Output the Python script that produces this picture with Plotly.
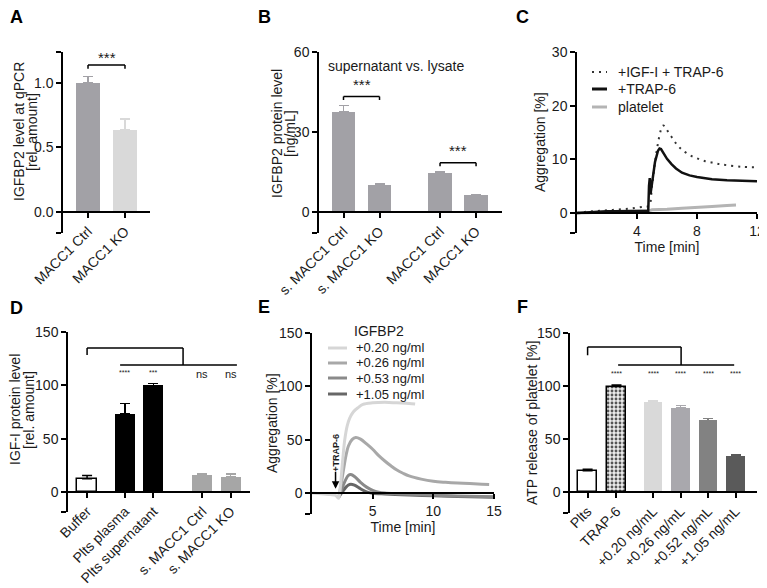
import plotly.graph_objects as go

# ---------------- data ----------------
A_categories = ["MACC1 Ctrl", "MACC1 KO"]
A_values = [1.0, 0.635]
A_errors = [0.05, 0.085]

B_categories = ["s. MACC1 Ctrl", "s. MACC1 KO", "MACC1 Ctrl", "MACC1 KO"]
B_values = [37.6, 10.1, 14.5, 6.2]
B_errors = [2.4, 0.5, 0.5, 0.4]

C_t_igf = [0, 0.5, 1, 1.5, 2, 2.5, 3, 3.5, 4, 4.5, 4.8, 5.0, 5.2, 5.4, 5.6, 5.75, 5.9, 6.1, 6.4, 6.7, 7.0, 7.5, 8, 8.5, 9, 9.5, 10, 11, 12]
C_y_igf = [0, 0.2, 0.3, 0.4, 0.5, 0.6, 0.7, 0.8, 1.0, 1.2, 1.3, 5.0, 9.5, 13.0, 15.5, 16.3, 15.9, 15.0, 13.8, 12.6, 11.8, 10.8, 10.2, 9.7, 9.4, 9.1, 8.9, 8.6, 8.5]
C_t_trap = [0, 0.5, 1, 1.5, 2, 2.5, 3, 3.5, 4, 4.5, 4.75, 4.8, 4.85, 4.9, 4.95, 5.0, 5.2, 5.4, 5.5, 5.6, 5.8, 6.0, 6.3, 6.6, 7.0, 7.5, 8, 8.5, 9, 10, 11, 12]
C_y_trap = [0, 0.1, 0.2, 0.2, 0.3, 0.3, 0.3, 0.4, 0.4, 0.4, 0.4, 5.0, 6.5, 3.5, 4.5, 6.0, 9.5, 11.6, 12.0, 11.9, 11.0, 10.1, 9.1, 8.3, 7.5, 7.0, 6.7, 6.5, 6.3, 6.1, 6.0, 5.9]
C_t_plt = [0, 1, 2, 3, 4, 4.8, 5.0, 5.5, 6, 7, 8, 9, 10, 10.6]
C_y_plt = [0, 0.1, 0.2, 0.3, 0.3, 0.4, 0.6, 0.6, 0.7, 0.9, 1.0, 1.2, 1.4, 1.5]
C_names = ["+IGF-I + TRAP-6", "+TRAP-6", "platelet"]

D_categories = ["Buffer", "Plts plasma", "Plts supernatant", "s. MACC1 Ctrl", "s. MACC1 KO"]
D_values = [12.5, 73, 100, 16, 14.5]
D_errors = [3, 10, 1.5, 1, 2.5]
D_sig = ["", "****", "***", "ns", "ns"]

E_names = ["+0.20 ng/ml", "+0.26 ng/ml", "+0.53 ng/ml", "+1.05 ng/ml"]
E_t_020 = [0, 0.5, 1, 1.5, 1.9, 2.1, 2.2, 2.35, 2.5, 2.7, 2.9, 3.1, 3.4, 3.8, 4.2, 5, 6, 7, 8, 8.5]
E_y_020 = [0, -0.5, -1, -1.5, -2, -4, -5, 8, 27, 50, 63, 70, 76, 80, 83, 84.5, 85, 84.5, 84, 83.5]
E_t_026 = [2.2, 2.4, 2.6, 2.8, 3.0, 3.3, 3.6, 4.0, 4.5, 5, 5.5, 6, 6.5, 7, 7.5, 8, 9, 10, 11, 12, 13, 14, 14.6]
E_y_026 = [-4, 8, 22, 35, 44, 50, 52, 50.5, 46, 41, 35, 30, 25.5, 21.5, 18.5, 16, 13, 11, 10, 9.3, 8.8, 8.3, 8]
E_t_053 = [2.2, 2.4, 2.6, 2.8, 3.0, 3.2, 3.5, 4.0, 4.5, 5.0, 5.5, 6, 7, 8, 10, 12, 15]
E_y_053 = [-4, 2, 8, 13, 16.5, 17.3, 15.5, 10, 5.5, 2.5, 0.8, 0, -0.7, -1.2, -2, -2.8, -3.5]
E_t_105 = [2.2, 2.5, 2.8, 3.0, 3.2, 3.5, 4.0, 4.5, 5, 6, 8, 10, 12, 15]
E_y_105 = [-4, 1, 5.5, 7.5, 8.2, 7.3, 4, 1, -0.2, -1, -2, -2.7, -3.3, -4]
E_t_base = [2.3, 15]
E_y_base = [0, 0]

F_categories = ["Plts", "TRAP-6", "+0.20 ng/mL", "+0.26 ng/mL", "+0.52 ng/mL", "+1.05 ng/mL"]
F_values = [20, 99.5, 85, 79.5, 67.5, 34]
F_errors = [1.5, 1.5, 1.5, 2, 2, 1.2]
F_sig = ["", "****", "****", "****", "****", "****"]

# ---------------- layout helpers ----------------
OFF = 8  # page body margin of the html page
W, H = 767 - OFF, 588 - OFF
FONT = "Liberation Sans, Arial, sans-serif"
TXT = "#1a1a1a"


def PX(x):
    return (x - OFF) / W


def PY(y):
    return 1 - (y - OFF) / H


fig = go.Figure()

# panel geometry in page pixels: x0, x1, ytop, ybottom, yzero
geo = {
    1: (63, 150, 52, 233, 212),
    2: (319, 502, 52, 233, 212),
    3: (577, 757, 52, 233, 213),
    4: (68, 250, 332, 512, 492),
    5: (312, 494, 333, 514, 493),
    6: (570, 757, 333, 513, 492),
}
yranges = {1: [-0.163, 1.24], 2: [-7.875, 60], 3: [-3.73, 30], 4: [-18.75, 150], 5: [-19.7, 150], 6: [-19.8, 150]}
xranges = {1: [-0.676, 1.676], 2: [-0.68, 4.40], 3: [0, 12], 4: [-0.67, 5.72], 5: [0, 15], 6: [-0.64, 6.16]}
ymain = {1: [0, 0.5, 1.0], 2: [0, 30, 60], 3: [0, 10, 20, 30], 4: [0, 50, 100, 150], 5: [0, 50, 100, 150], 6: [0, 50, 100, 150]}
yfmt = {1: "{:.1f}", 2: "{:g}", 3: "{:g}", 4: "{:g}", 5: "{:g}", 6: "{:g}"}
# y-axis titles: (text, page x of line centre, page y of centre)
ytitles = {
    1: [("IGFBP2 level at qPCR", 19, 132), ("[rel. amount]", 32, 132)],
    2: [("IGFBP2 protein level", 277, 134), ("[ng/mL]", 290, 134)],
    3: [("Aggregation [%]", 540, 142)],
    4: [("IGF-I protein level", 15, 410), ("[rel. amount]", 29, 410)],
    5: [("Aggregation [%]", 272, 423)],
    6: [("ATP release of platelet [%]", 532, 423)],
}

B_pos = [0, 1, 2.68, 3.68]
D_pos = [0, 1.33, 2.33, 4.05, 5.04]
F_pos = [0, 1.05, 2.38, 3.38, 4.38, 5.38]
A_pos = [0, 1]


def ax(n, kind):
    return kind if n == 1 else f"{kind}{n}"


def bar(n, xpos, val, err, color, line_color=None, pattern=None, width=0.65, ecolor=None):
    marker = dict(color=color, line=dict(width=1.5 if line_color else 0, color=line_color or color))
    if pattern:
        marker["pattern"] = pattern
    fig.add_trace(go.Bar(
        x=[xpos], y=[val], width=width, marker=marker,
        error_y=dict(type="data", array=[err], arrayminus=[0], symmetric=False,
                     color=ecolor or color, thickness=1.5, width=5),
        xaxis=ax(n, "x"), yaxis=ax(n, "y"), showlegend=False, hoverinfo="skip"))


# ---- A ----
A_colors = ["#a2a1a6", "#d9d9d9"]
for p, v, e, c in zip(A_pos, A_values, A_errors, A_colors):
    bar(1, p, v, e, c, width=0.65)

# ---- B ----
for p, v, e in zip(B_pos, B_values, B_errors):
    bar(2, p, v, e, "#a2a1a6", width=0.65)

# ---- C ----
fig.add_trace(go.Scatter(x=C_t_plt, y=C_y_plt, mode="lines", line=dict(color="#b4b4b4", width=3),
                         xaxis="x3", yaxis="y3", showlegend=False, name=C_names[2]))
fig.add_trace(go.Scatter(x=C_t_igf, y=C_y_igf, mode="lines", line=dict(color="#333333", width=2, dash="2px,5px", shape="spline"),
                         xaxis="x3", yaxis="y3", showlegend=False, name=C_names[0]))
fig.add_trace(go.Scatter(x=C_t_trap, y=C_y_trap, mode="lines", line=dict(color="#111111", width=2.5),
                         xaxis="x3", yaxis="y3", showlegend=False, name=C_names[1]))

# ---- D ----
D_fill = ["white", "black", "black", "#a6a6a6", "#a6a6a6"]
D_line = ["black", None, None, None, None]
D_err = ["black", "black", "black", "#a6a6a6", "#a6a6a6"]
for p, v, e, c, lc, ec in zip(D_pos, D_values, D_errors, D_fill, D_line, D_err):
    bar(4, p, v, e, c, line_color=lc, width=0.7, ecolor=ec)

# ---- E ----
E_colors = ["#d6d6d6", "#a8a8a8", "#8a8a8a", "#676767"]
E_series = [(E_t_020, E_y_020), (E_t_026, E_y_026), (E_t_053, E_y_053), (E_t_105, E_y_105)]
for i in [3, 2, 1]:
    fig.add_trace(go.Scatter(x=E_series[i][0], y=E_series[i][1], mode="lines",
                             line=dict(color=E_colors[i], width=3, shape="spline"),
                             xaxis="x5", yaxis="y5", showlegend=False, name=E_names[i]))
fig.add_trace(go.Scatter(x=E_t_base, y=E_y_base, mode="lines", line=dict(color="black", width=1.5),
                         xaxis="x5", yaxis="y5", showlegend=False))
fig.add_trace(go.Scatter(x=E_series[0][0], y=E_series[0][1], mode="lines",
                         line=dict(color=E_colors[0], width=3, shape="spline"),
                         xaxis="x5", yaxis="y5", showlegend=False, name=E_names[0]))

# ---- F ----
F_fill = ["white", "#e8e8e8", "#d9d9d9", "#a9a8ad", "#828282", "#5a5a5a"]
F_line = ["black", "black", None, None, None, None]
F_err = ["black", "black", "#d9d9d9", "#a9a8ad", "#828282", "#5a5a5a"]
for i, (p, v, e) in enumerate(zip(F_pos, F_values, F_errors)):
    pat = dict(shape=".", fgcolor="#555555", bgcolor="#ececec", size=4, solidity=0.4) if i == 1 else None
    bar(6, p, v, e, F_fill[i], line_color=F_line[i], pattern=pat, width=0.68, ecolor=F_err[i])

# ---------------- axes ----------------
layout = dict(template="none", width=W, height=H, margin=dict(l=0, r=0, t=0, b=0, pad=0, autoexpand=False),
              paper_bgcolor="white", plot_bgcolor="rgba(0,0,0,0)",
              font=dict(family=FONT, color=TXT, size=14), showlegend=False, bargap=0)

xticks = {
    1: (A_pos, A_categories, -45),
    2: (B_pos, B_categories, -45),
    3: ([4, 8, 12], ["4", "8", "12"], 0),
    4: (D_pos, D_categories, -45),
    5: ([5, 10, 15], ["5", "10", "15"], 0),
    6: (F_pos, F_categories, -45),
}
xtitle_text = {3: "Time [min]", 5: "Time [min]"}
for n, (x0, x1, yt, yb, yz) in geo.items():
    yr = yranges[n]
    lo = yr[0] + 1e-6 * (yr[1] - yr[0])
    tv = [lo] + ymain[n]
    tt = [""] + [yfmt[n].format(v) for v in ymain[n]]
    if n == 1:
        hi = yr[1] - 1e-6 * (yr[1] - yr[0])
        tv.append(hi)
        tt.append("")
    layout[ax(n, "yaxis")] = dict(
        domain=[PY(yb), PY(yt)], range=yr, anchor=ax(n, "x"), automargin=False,
        showline=True, linecolor="black", linewidth=1.5, ticks="outside", ticklen=5,
        tickwidth=1.5, tickcolor="black", tickvals=tv, ticktext=tt, showgrid=False,
        zeroline=False, tickfont=dict(size=14))
    tvx, ttx, ang = xticks[n]
    xa = dict(
        domain=[PX(x0), PX(x1)], range=xranges[n], anchor="free", position=PY(yz), automargin=False,
        showline=True, linecolor="black", linewidth=1.5, ticks="outside", ticklen=5,
        tickwidth=1.5, tickcolor="black", tickvals=tvx, ticktext=ttx, tickangle=ang,
        showgrid=False, zeroline=False, tickfont=dict(size=14))
    if n in xtitle_text:
        xa["title"] = dict(text=xtitle_text[n], font=dict(size=14), standoff=1)
    layout[ax(n, "xaxis")] = xa

fig.update_layout(**layout)

# ---------------- brackets / annotations ----------------
shapes = []
ann = []

for n, lines in ytitles.items():
    for s, tx, ty in lines:
        ann.append(dict(xref="paper", yref="paper", x=PX(tx), y=PY(ty), text=s, textangle=-90,
                        showarrow=False, xanchor="center", yanchor="middle", font=dict(size=14, color=TXT)))


def seg(n, xa, ya, xb, yb, w=1.5):
    shapes.append(dict(type="line", xref=ax(n, "x"), yref=ax(n, "y"), x0=xa, y0=ya, x1=xb, y1=yb,
                       line=dict(color="black", width=w)))


def txt(n, x, y, s, size=14):
    ann.append(dict(xref=ax(n, "x"), yref=ax(n, "y"), x=x, y=y, text=s, showarrow=False,
                    font=dict(size=size, color=TXT)))


# A
seg(1, 0, 1.11, 0, 1.14); seg(1, 0, 1.14, 1, 1.14); seg(1, 1, 1.14, 1, 1.11)
txt(1, 0.5, 1.2, "***", 15)
# B
seg(2, 0, 42, 0, 43.3); seg(2, 0, 43.3, 1, 43.3); seg(2, 1, 43.3, 1, 42)
txt(2, 0.5, 48, "***", 15)
seg(2, 2.68, 17.2, 2.68, 18.5); seg(2, 2.68, 18.5, 3.68, 18.5); seg(2, 3.68, 18.5, 3.68, 17.2)
txt(2, 3.18, 23, "***", 15)
ann.append(dict(xref="paper", yref="paper", x=PX(326), y=PY(66), xanchor="left", yanchor="middle",
                text="supernatant vs. lysate", showarrow=False, font=dict(size=14, color=TXT)))
# D
seg(4, 0, 128.4, 0, 135); seg(4, 0, 135, 3.37, 135); seg(4, 3.37, 135, 3.37, 119)
seg(4, 1.16, 119, 5.26, 119)
for p, s in zip(D_pos, D_sig):
    if s:
        txt(4, p, 111 if s == "ns" else 112, s, 11 if s == "ns" else 7)
# F
seg(6, 0, 129, 0, 136.8); seg(6, 0, 136.8, 3.40, 136.8); seg(6, 3.40, 136.8, 3.40, 119.8)
seg(6, 1.11, 119.8, 5.33, 119.8)
for p, s in zip(F_pos, F_sig):
    if s:
        txt(6, p, 112, s, 7)
# E arrow and text
ann.append(dict(xref="x5", yref="y5", x=1.94, y=4, ax=1.94, ay=21, axref="x5", ayref="y5",
                showarrow=True, arrowhead=2, arrowsize=1, arrowwidth=1.5, arrowcolor="black", text=""))
ann.append(dict(xref="x5", yref="y5", x=2.0, y=38, text="<b>+TRAP-6</b>", textangle=-90,
                showarrow=False, font=dict(size=9, color=TXT)))

# Legends (drawn manually)
C_leg = [(72, dict(color="#333333", width=2, dash="2px,5px")), (89, dict(color="#111111", width=3)),
         (107, dict(color="#b4b4b4", width=3))]
for (yy, ln), name in zip(C_leg, C_names):
    shapes.append(dict(type="line", xref="paper", yref="paper", x0=PX(592), x1=PX(607), y0=PY(yy), y1=PY(yy), line=ln))
    ann.append(dict(xref="paper", yref="paper", x=PX(617), y=PY(yy), xanchor="left", yanchor="middle",
                    text=name, showarrow=False, borderpad=0, font=dict(size=14, color=TXT)))
ann.append(dict(xref="paper", yref="paper", x=PX(353), y=PY(331), xanchor="left", yanchor="middle",
                text="IGFBP2", showarrow=False, borderpad=0, font=dict(size=14, color=TXT)))
for yy, name, col in zip([348, 363, 378, 394], E_names, E_colors):
    shapes.append(dict(type="line", xref="paper", yref="paper", x0=PX(328), x1=PX(347), y0=PY(yy), y1=PY(yy),
                       line=dict(color=col, width=3)))
    ann.append(dict(xref="paper", yref="paper", x=PX(355), y=PY(yy), xanchor="left", yanchor="middle",
                    text=name, showarrow=False, borderpad=0, font=dict(size=13, color=TXT)))

# Panel letters (top row anchored near the top of the figure so nothing is clipped)
for letter, (lx, ly, anc) in zip("ABCDEF", [(16, 6, "top"), (264, 6, "top"), (522, 6, "top"),
                                             (16, 308, "middle"), (264, 307, "middle"), (522, 307, "middle")]):
    ann.append(dict(xref="paper", yref="paper", x=PX(lx), y=PY(ly), text=f"<b>{letter}</b>", showarrow=False,
                    xanchor="center", yanchor=anc, borderpad=0, font=dict(size=18, color="black")))

fig.update_layout(shapes=shapes, annotations=ann)
fig.write_html("out.html")
